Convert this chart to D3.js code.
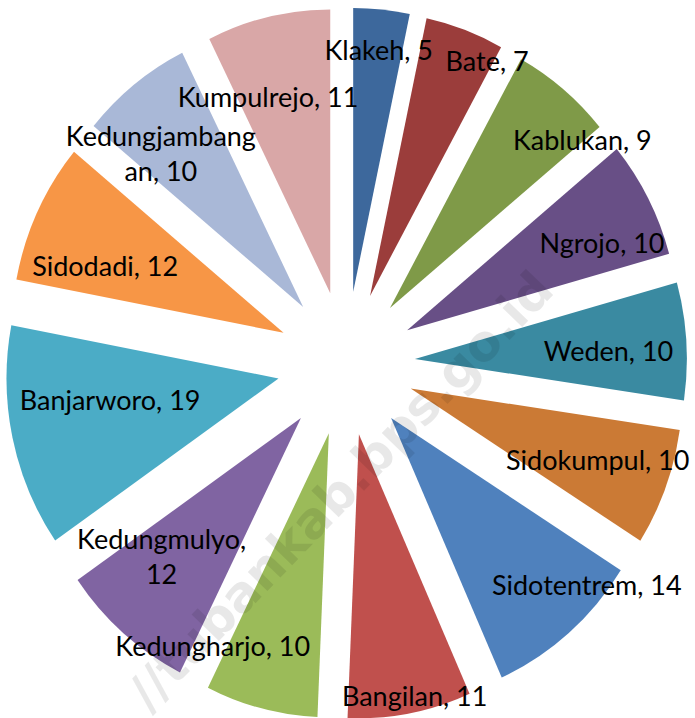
<!DOCTYPE html>
<html lang="id">
<head>
<meta charset="UTF-8">
<title>Jumlah per Desa</title>
<script src="https://d3js.org/d3.v7.min.js"></script>
<style>
  body { margin: 0; background: #fff; overflow: hidden; }
  .label { font-family: Lato, "Noto Sans", sans-serif; font-size: 27px; fill: #000; }
  .wm { font-family: "DejaVu Sans", sans-serif; font-size: 50px; font-weight: bold; fill: #000; fill-opacity: 0.09; }
</style>
</head>
<body>
<script>
// data desa, urut searah jarum jam mulai dari jam 12
const desa = ["Klakeh", "Bate", "Kablukan", "Ngrojo", "Weden", "Sidokumpul", "Sidotentrem",
              "Bangilan", "Kedungharjo", "Kedungmulyo", "Banjarworo", "Sidodadi", "Kedungjambangan", "Kumpulrejo"];
const jumlah = [5, 7, 9, 10, 10, 10, 14, 11, 10, 12, 19, 12, 10, 11];
const warna = ["#3d689c", "#9b3d3b", "#7f9a48", "#684f86", "#3a8aa1", "#cb7a35", "#4f81bd",
               "#c0504d", "#9bbb59", "#8064a2", "#4bacc6", "#f79646", "#a9b8d7", "#d9a7a7"];

// geseran label (seperti "best fit" Excel), px terhadap posisi hitungan
const labelNudge = [[1, 2], [37, -10], [64, -5], [19, 9], [-2, 5], [28, 10], [78, 25],
                    [14, 34], [-65, 5], [-23, -2], [-2, -15], [-8, 17], [-36, -13], [-14, 19]];

const width = 695, height = 718;
const cx = 346, cy = 363.5;
const radius = 272, explode = 69, stretchY = 1.044;
const maxLabelWidth = 198, lineHeight = 35;

const data = desa.map((d, i) => ({ name: d, value: jumlah[i], color: warna[i], nudge: labelNudge[i] }));

const svg = d3.select("body").append("svg")
    .attr("width", width)
    .attr("height", height);

const pie = d3.pie().sort(null).value(d => d.value);
const arc = d3.arc().innerRadius(0).outerRadius(radius);
const arcs = pie(data);

const mid = d => (d.startAngle + d.endAngle) / 2;

// irisan pie yang dipisah (exploded)
const g = svg.append("g")
    .attr("transform", `translate(${cx},${cy}) scale(1,${stretchY})`);

g.selectAll("path")
    .data(arcs)
    .enter().append("path")
    .attr("transform", d => `translate(${explode * Math.sin(mid(d))},${-explode * Math.cos(mid(d))})`)
    .attr("d", arc)
    .attr("fill", d => d.data.color);

// ukur lebar teks untuk membungkus label
const measure = svg.append("text").attr("class", "label");
function textWidth(s) {
    measure.text(s);
    return measure.node().getComputedTextLength();
}
function wrap(s) {
    const lines = [];
    let cur = "";
    s.split(" ").forEach(word => {
        const test = cur ? cur + " " + word : word;
        if (textWidth(test) <= maxLabelWidth) { cur = test; return; }
        if (cur) { lines.push(cur); cur = ""; }
        // kata terlalu panjang: potong per huruf
        let part = "";
        for (const ch of word) {
            if (textWidth(part + ch) > maxLabelWidth) { lines.push(part); part = ch; }
            else part += ch;
        }
        cur = part;
    });
    if (cur) lines.push(cur);
    return lines;
}

// posisi label: kotak label dimasukkan ke dalam busur luar irisan
function labelPos(d, w, h) {
    const a = mid(d), sx = Math.sin(a), sy = -Math.cos(a);
    const hh = h / stretchY;
    const far = t => {
        const x = t * sx, y = t * sy;
        return Math.hypot(Math.abs(x) + w / 2, Math.abs(y) + hh / 2);
    };
    let lo = 0, hi = radius;
    for (let k = 0; k < 40; k++) {
        const m = (lo + hi) / 2;
        if (far(m) < radius - 10) lo = m; else hi = m;
    }
    const dist = explode + lo;
    return [cx + dist * sx + d.data.nudge[0], cy + dist * sy * stretchY + d.data.nudge[1]];
}

const labels = svg.append("g");
arcs.forEach(d => {
    const lines = wrap(`${d.data.name}, ${d.data.value}`);
    const w = d3.max(lines, textWidth);
    const h = lines.length * lineHeight;
    const [x, y] = labelPos(d, w, h);
    const t = labels.append("text")
        .attr("class", "label")
        .attr("text-anchor", "middle");
    lines.forEach((l, i) => {
        t.append("tspan")
            .attr("x", x)
            .attr("y", y - (lines.length - 1) * lineHeight / 2 + i * lineHeight)
            .attr("dy", "0.35em")
            .text(l);
    });
});
measure.remove();

// watermark
svg.append("text")
    .attr("class", "wm")
    .attr("text-anchor", "end")
    .attr("transform", "translate(556,292) rotate(-46)")
    .text("//tubankab.bps.go.id");
</script>
</body>
</html>
